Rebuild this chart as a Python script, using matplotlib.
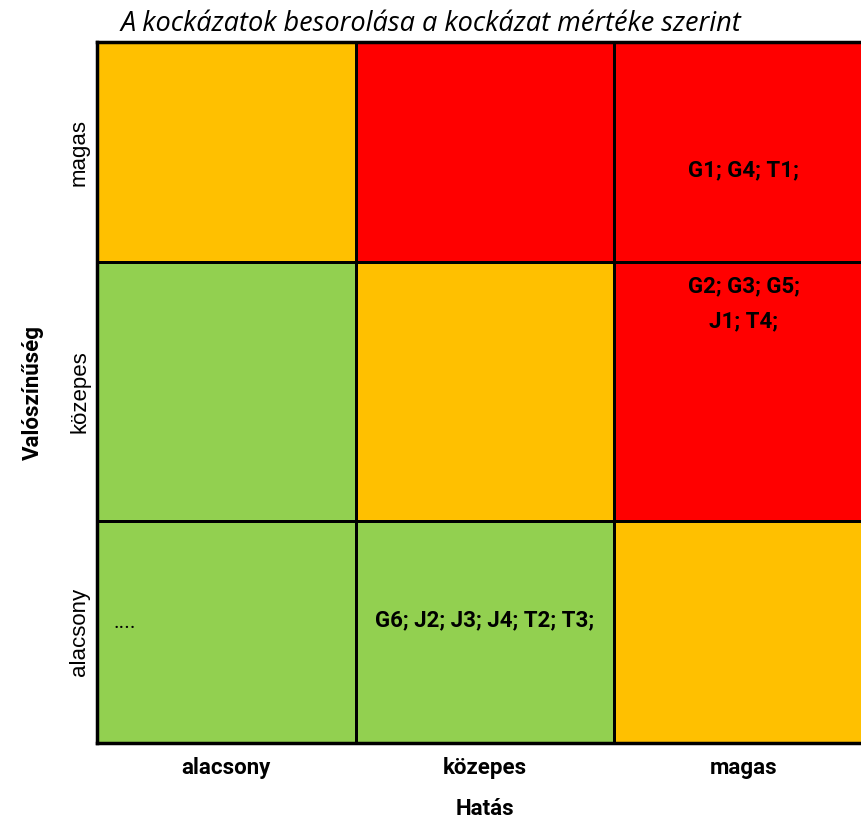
import numpy as np
import matplotlib.pyplot as plt
from matplotlib.colors import ListedColormap

impact_labels = ['alacsony', 'közepes', 'magas']
prob_labels = ['alacsony', 'közepes', 'magas']

# risk level per cell: 0 = low (green), 1 = medium (orange), 2 = high (red)
# rows: probability alacsony -> magas, cols: impact alacsony -> magas
risk_levels = np.array([
    [0, 0, 1],
    [0, 1, 2],
    [1, 2, 2],
])

cell_texts = {
    (0, 0): '....',
    (0, 1): 'G6; J2; J3; J4; T2; T3;',
    (1, 2): 'G2; G3; G5;\nJ1; T4;',
    (2, 2): 'G1; G4; T1;',
}

risk_colors = ['#92D050', '#FFC000', '#FF0000']

# row heights as they appear in the original (px)
row_edges = np.array([0, 222, 481, 701])
col_edges = np.array([0, 1, 2, 3])

narrow = ['Roboto', 'DejaVu Sans']

fig = plt.figure(figsize=(8.61, 8.21), dpi=100)
ax = fig.add_axes([97 / 861, 78 / 821, 3 * 258.7 / 861, 701 / 821])

ax.pcolormesh(col_edges, row_edges, risk_levels, cmap=ListedColormap(risk_colors),
              vmin=-0.5, vmax=2.5, edgecolors='black', linewidth=1.8)

ax.set_xlim(0, 3)
ax.set_ylim(0, 701)

for (r, c), txt in cell_texts.items():
    if txt == '....':
        ax.text(c + 0.065, 121, txt, ha='left', va='center', fontsize=15,
                family=narrow)
    elif r == 1:
        ax.text(c + 0.5, 439, txt, ha='center', va='center', fontsize=16,
                family=narrow, fontweight='bold', linespacing=1.75)
    elif r == 2:
        ax.text(c + 0.5, 573, txt, ha='center', va='center', fontsize=16,
                family=narrow, fontweight='bold')
    else:
        ax.text(c + 0.5, 123, txt, ha='center', va='center', fontsize=16,
                family=narrow, fontweight='bold')

ax.set_xticks(col_edges[:-1] + 0.5)
ax.set_xticklabels(impact_labels, fontsize=16, family=narrow, fontweight='bold')
ax.set_yticks((row_edges[:-1] + row_edges[1:]) / 2)
ax.set_yticklabels(prob_labels, fontsize=16, family=['Liberation Sans', 'DejaVu Sans'],
                   rotation=90, va='center')
ax.tick_params(axis='x', length=0, pad=10)
ax.tick_params(axis='y', length=0, pad=5)

ax.set_xlabel('Hatás', fontsize=16, family=narrow, fontweight='bold', labelpad=14)
ax.set_ylabel('Valószínűség', fontsize=16, family=narrow, fontweight='bold', labelpad=18)

for s in ax.spines.values():
    s.set_linewidth(2.5)

fig.text(0.5, 1 - 24 / 821, 'A kockázatok besorolása a kockázat mértéke szerint',
         ha='center', va='center', fontsize=19.5, style='italic',
         family=['Open Sans', 'DejaVu Sans'])

plt.savefig('out.png', dpi=100)
plt.close()
